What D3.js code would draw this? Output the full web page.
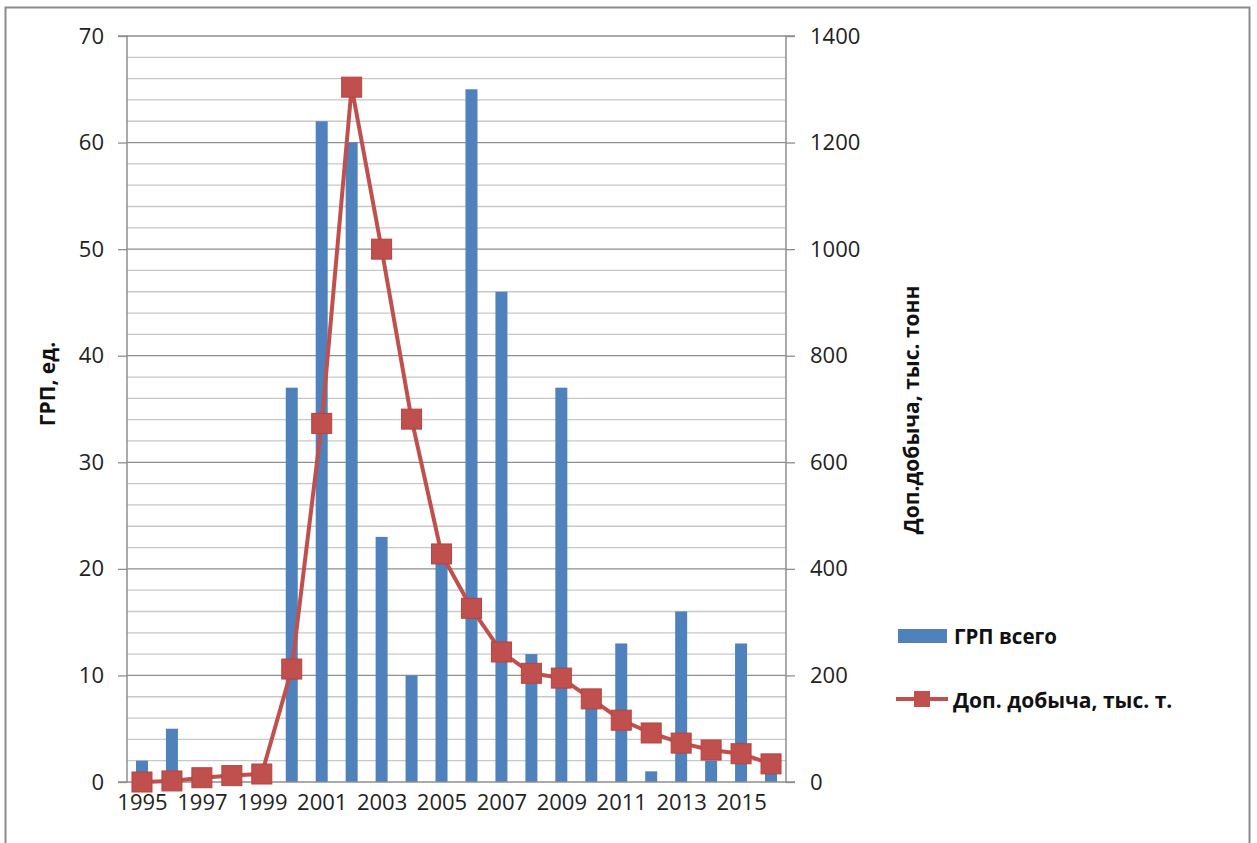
<!DOCTYPE html>
<html><head><meta charset="utf-8">
<script src="https://cdn.jsdelivr.net/npm/d3@7"></script>
<style>body{margin:0;background:#fff}svg{display:block}</style>
</head><body>
<svg id="c" width="1257" height="843"></svg>
<script>
const years = [1995,1996,1997,1998,1999,2000,2001,2002,2003,2004,2005,2006,2007,2008,2009,2010,2011,2012,2013,2014,2015,2016];
const grpTotal = [2,5,0,0,0,37,62,60,23,10,21,65,46,12,37,8,13,1,16,2,13,2];
const extraProd = [0,2,8,12,15,212,673,1304,1000,681,428,326,244,204,195,156,116,92,73,60,53,34];
const leftTicks = [0,10,20,30,40,50,60,70];
const rightTicks = [0,200,400,600,800,1000,1200,1400];
const seriesNames = ["ГРП всего","Доп. добыча, тыс. т."];
const leftTitle = "ГРП, ед.";
const rightTitle = "Доп.добыча, тыс. тонн";

const svg = d3.select("#c");
const font = "'Open Sans', 'Liberation Sans', sans-serif";
const L = 127, R = 786, T = 36, B = 782;
const blue = "#4F81BD", red = "#C0504D";

svg.append("rect").attr("x",5.5).attr("y",7.5).attr("width",1244).attr("height",850)
  .attr("fill","#fff").attr("stroke","#8c8c8c").attr("stroke-width",2);

const xc = d3.scalePoint().domain(years).range([L,R]).padding(0.5);
const yL = d3.scaleLinear().domain([0,70]).range([B,T]);
const yR = d3.scaleLinear().domain([0,1400]).range([B,T]);

// grid
const g = svg.append("g");
g.selectAll("line.minor").data(d3.range(2,70,2).filter(v=>v%10!==0)).join("line")
  .attr("x1",L).attr("x2",R).attr("y1",d=>yL(d)).attr("y2",d=>yL(d))
  .attr("stroke","#c8c8c8").attr("stroke-width",1.3);
g.selectAll("line.major").data(leftTicks.slice(1)).join("line")
  .attr("x1",L).attr("x2",R).attr("y1",d=>yL(d)).attr("y2",d=>yL(d))
  .attr("stroke","#8e8e8e").attr("stroke-width",1.3);

// bars
svg.append("g").selectAll("rect").data(years).join("rect")
  .attr("x",(d)=>xc(d)-6).attr("width",12)
  .attr("y",(d,i)=>yL(grpTotal[i])).attr("height",(d,i)=>B-yL(grpTotal[i]))
  .attr("fill",blue);

// axes
const axL = svg.append("g").attr("transform",`translate(${L},0)`)
  .call(d3.axisLeft(yL).tickValues(leftTicks).tickSize(9).tickPadding(14).tickFormat(d3.format("d")));
const axR = svg.append("g").attr("transform",`translate(${R},0)`)
  .call(d3.axisRight(yR).tickValues(rightTicks).tickSize(9).tickPadding(15).tickFormat(d3.format("d")));
const axB = svg.append("g").attr("transform",`translate(0,${B})`)
  .call(d3.axisBottom(xc).tickValues(years.filter((d,i)=>i%2===0)).tickSize(0).tickPadding(12).tickFormat(d3.format("d")));
[axL,axR,axB].forEach(a=>{
  a.selectAll("path.domain").attr("stroke","#8e8e8e").attr("stroke-width",1.5);
  a.selectAll(".tick line").attr("stroke","#8e8e8e").attr("stroke-width",1.3);
  a.selectAll("text").attr("font-family",font).attr("font-size",22).attr("fill","#222");
});
axB.select("path.domain").attr("d",`M${L},0H${R}`);
axL.select("path.domain").attr("d",`M-9,${T}H0V${B}H-9`);
axR.select("path.domain").attr("d",`M9,${T}H0V${B}H9`);

// line
const line = d3.line().x((d,i)=>xc(years[i])).y(d=>yR(d));
svg.append("path").datum(extraProd).attr("d",line).attr("fill","none")
  .attr("stroke",red).attr("stroke-width",4).attr("stroke-linejoin","round");
svg.append("g").selectAll("rect").data(extraProd).join("rect")
  .attr("x",(d,i)=>xc(years[i])-10).attr("y",d=>yR(d)-10)
  .attr("width",20).attr("height",20).attr("fill",red).attr("stroke","#b9413e").attr("stroke-width",1);

// axis titles
svg.append("text").attr("transform","translate(55,384) rotate(-90)")
  .attr("text-anchor","middle").attr("font-family",font).attr("font-weight","bold")
  .attr("font-size",21).attr("fill","#111").text(leftTitle);
svg.append("text").attr("transform","translate(919,410) rotate(-90)")
  .attr("text-anchor","middle").attr("font-family",font).attr("font-weight","bold")
  .attr("font-size",21).attr("fill","#111").text(rightTitle);

// legend
const lg = svg.append("g");
lg.append("rect").attr("x",898).attr("y",629).attr("width",49).attr("height",14).attr("fill",blue);
lg.append("text").attr("x",954).attr("y",644).attr("font-family",font).attr("font-weight","bold")
  .attr("font-size",20.5).attr("fill","#111").text(seriesNames[0]);
lg.append("line").attr("x1",896).attr("x2",948).attr("y1",699).attr("y2",699)
  .attr("stroke",red).attr("stroke-width",4);
lg.append("rect").attr("x",914).attr("y",691).attr("width",16).attr("height",16).attr("fill",red);
lg.append("text").attr("x",953).attr("y",708).attr("font-family",font).attr("font-weight","bold")
  .attr("font-size",21).attr("fill","#111").text(seriesNames[1]);
</script>
</body></html>
